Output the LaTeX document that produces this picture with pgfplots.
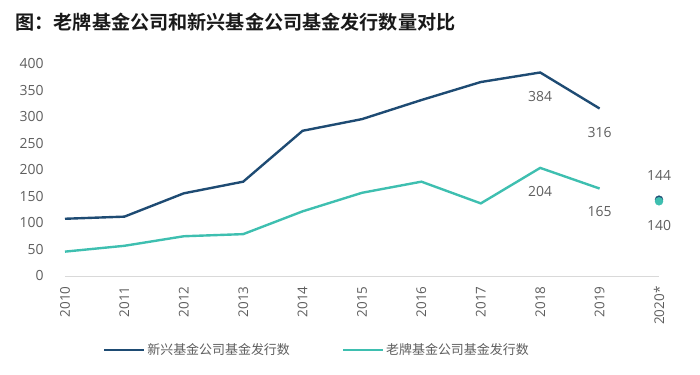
\documentclass[border=0pt]{standalone}
\usepackage{pgfplots}
\pgfplotsset{compat=1.18}
\usepackage{fontspec}
\setmainfont{Open Sans}
\newfontfamily\cjk{Noto Sans CJK SC}
\newfontfamily\cjkb[BoldFont={Noto Sans CJK SC Bold}]{Noto Sans CJK SC}
\definecolor{dblue}{HTML}{1E4B73}
\definecolor{teal2}{HTML}{3EBFB0}
\definecolor{txtg}{HTML}{5E5E5E}
\begin{document}
\begin{tikzpicture}[x=1bp,y=1bp]
\path[use as bounding box] (-65,-98) rectangle (635,276);
\begin{axis}[
  scale only axis, width=594bp, height=212bp,
  xmin=0, xmax=10, ymin=0, ymax=400,
  axis y line=none, axis x line*=bottom,
  axis line style={draw=gray!30, line width=0.8pt},
  x axis line style={-},
  xtick={0,...,10},
  xticklabels={2010,2011,2012,2013,2014,2015,2016,2017,2018,2019,2020*},
  xticklabel style={rotate=90, anchor=east, xshift=-7bp, font=\fontsize{13.5}{14}\selectfont, text=txtg},
  major tick length=0pt,
  ytick={0,50,...,400},
  /pgf/number format/assume math mode=true,
  clip=false,
  legend style={at={(0.424,-0.349)}, anchor=center, draw=none, legend columns=2,
    font=\cjk\fontsize{13}{14}\selectfont, text=txtg,
    /tikz/every even column/.append style={column sep=50bp}},
  legend image code/.code={\draw[#1] (0bp,0bp) -- (40bp,0bp);},
]
\foreach \v in {0,50,...,400} {
  \edef\tmp{\noexpand\node[anchor=east, text=txtg, font=\noexpand\fontsize{14}{15}\noexpand\selectfont] at (axis cs:0,\v) [xshift=-18bp] {\v};}
  \tmp
}
\addplot[dblue, line width=2.4pt] coordinates {
(0,108) (1,112) (2,156) (3,178) (4,274) (5,296) (6,332) (7,366) (8,384) (9,316)};
\addlegendentry{新兴基金公司基金发行数}
\addplot[teal2, line width=2.4pt] coordinates {
(0,46) (1,57) (2,75) (3,79) (4,122) (5,157) (6,178) (7,137) (8,204) (9,165)};
\addlegendentry{老牌基金公司基金发行数}
\addplot[only marks, mark=*, mark size=4bp, dblue, forget plot] coordinates {(10,144)};
\addplot[only marks, mark=*, mark size=4bp, teal2, forget plot] coordinates {(10,141)};
\begin{scope}[every node/.style={text=txtg, font=\fontsize{14}{15}\selectfont}]
\node at (axis cs:8,384) [yshift=-24bp] {384};
\node at (axis cs:9,316) [yshift=-24bp] {316};
\node at (axis cs:8,204) [yshift=-24bp] {204};
\node at (axis cs:9,165) [yshift=-23bp] {165};
\node at (axis cs:10,144) [yshift=24bp] {144};
\node at (axis cs:10,140) [yshift=-24bp] {140};
\end{scope}
\end{axis}
\node[anchor=west, font=\cjkb\bfseries\fontsize{19.2}{20}\selectfont, text=black!90] at (-53,254) {图：老牌基金公司和新兴基金公司基金发行数量对比};
\end{tikzpicture}
\end{document}
